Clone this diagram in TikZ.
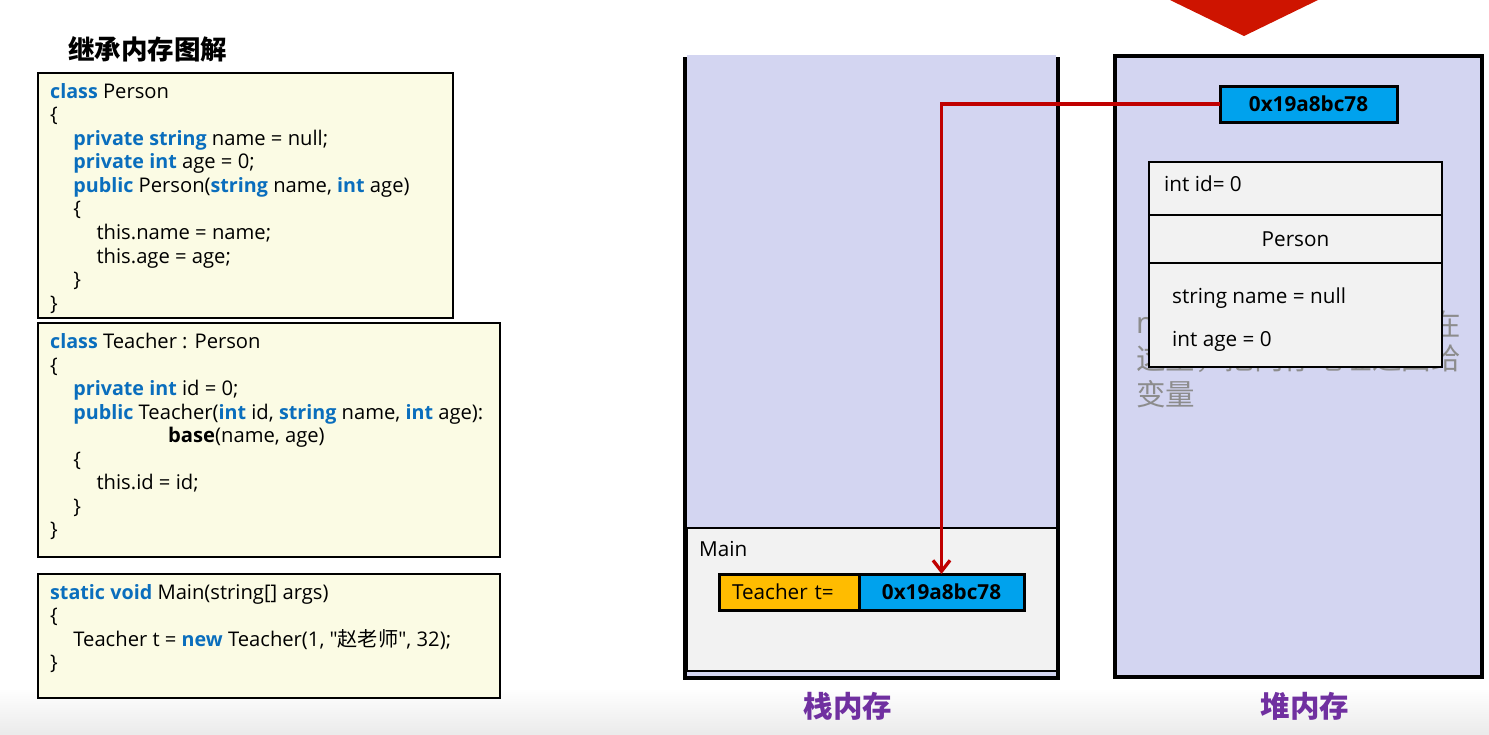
\documentclass[tikz,border=0pt]{standalone}
\usepackage{fontspec}
\setmainfont{Open Sans}[Ligatures=TeXOff]
\newfontfamily\cjk{Noto Sans CJK SC}
\usetikzlibrary{arrows.meta}
\definecolor{kwblue}{HTML}{0A6EBD}
\definecolor{notefill}{HTML}{FBFBE4}
\definecolor{memfill}{HTML}{D3D5F1}
\definecolor{framefill}{HTML}{F2F2F2}
\definecolor{addrblue}{HTML}{00A2ED}
\definecolor{varorange}{HTML}{FFBC00}
\definecolor{linkred}{HTML}{C00000}
\definecolor{bannerred}{HTML}{CE1400}
\definecolor{titlepurple}{HTML}{7030A0}
\newcommand{\kw}[1]{\textcolor{kwblue}{\fontsize{19.7}{23.55}\selectfont\bfseries #1}}
\newcommand{\ind}{\hspace*{23.2pt}}
\tikzset{
  notebox/.style={draw=black, line width=1.5pt, fill=notefill, inner sep=0pt, outer sep=0pt, anchor=north west},
  codetext/.style={anchor=north west, inner sep=0pt, align=left, font=\fontsize{20.2}{23.55}\selectfont},
  plain/.style={inner sep=0pt, font=\fontsize{20.7}{23}\selectfont},
  addrbox/.style={draw=black, line width=3pt, fill=addrblue, inner sep=0pt, outer sep=0pt, minimum height=36pt, anchor=north west, font=\fontsize{20.7}{23}\selectfont\bfseries},
  rowbox/.style={draw=black, line width=1.5pt, fill=framefill, inner sep=0pt, outer sep=0pt, minimum width=293pt, anchor=north west},
  memtitle/.style={inner sep=0pt, text=titlepurple, font=\fontsize{29.5}{30}\selectfont\cjk\bfseries},
  ghost/.style={inner sep=0pt, anchor=west, text=black!45, font=\fontsize{29.5}{30}\selectfont\cjk}
}
\begin{document}
\begin{tikzpicture}[x=1pt,y=-1pt]
  \useasboundingbox (0,0) rectangle (1489,734);
  \shade[top color=white, bottom color=black!8] (0,688) rectangle (1489,734);
  \fill[bannerred] (1170,0) -- (1244,36) -- (1318,0) -- cycle;

  \node[anchor=west, inner sep=0pt, font=\fontsize{26.5}{28}\selectfont\cjk\bfseries] (pagetitle) at (68,49) {继承内存图解};

  \node[notebox, minimum width=415pt, minimum height=245pt] (personbox) at (38,73) {};
  \node[codetext] (persontext) at (50,83) {\kw{class} Person\\
    \{\\
    \ind\kw{private} \kw{string} name = null;\\
    \ind\kw{private} \kw{int} age = 0;\\
    \ind\kw{public} Person(\kw{string} name, \kw{int} age)\\
    \ind\{\\
    \ind\ind this.name = name;\\
    \ind\ind this.age = age;\\
    \ind\}\\
    \}};
  \node[notebox, minimum width=462pt, minimum height=234pt] (teacherbox) at (38,323) {};
  \node[codetext] (teachertext) at (50,333) {\kw{class} Teacher : Person\\
    \{\\
    \ind\kw{private} \kw{int} id = 0;\\
    \ind\kw{public} Teacher(\kw{int} id, \kw{string} name, \kw{int} age):\\
    \hspace*{118pt}\textbf{base}(name, age)\\
    \ind\{\\
    \ind\ind this.id = id;\\
    \ind\}\\
    \}};
  \node[notebox, minimum width=462pt, minimum height=124pt] (mainbox) at (38,574) {};
  \node[codetext] (maintext) at (50,584) {\kw{static} \kw{void} Main(string[] args)\\
    \{\\
    \ind Teacher t = \kw{new} Teacher(1, "{\cjk 赵老师}", 32);\\
    \}};

  % stack
  \fill[memfill] (687,55) rectangle (1056,677);
  \node[draw=black, line width=1.5pt, fill=framefill, inner sep=0pt, outer sep=0pt, minimum width=370pt, minimum height=143pt, anchor=north west] (mainframe) at (687,528) {};
  \draw[line width=4pt] (685,57) -- (685,678) -- (1058,678) -- (1058,57);
  \node[plain, anchor=west] (mainlabel) at (699,549) {Main};
  \node[addrbox, fill=varorange, minimum width=140pt, text width=114pt, align=left, font=\fontsize{20.7}{23}\selectfont] (varcell) at (719,574) {Teacher t=};
  \node[addrbox, minimum width=165pt] (stackaddr) at (859,574) {0x19a8bc78};
  \node[memtitle] (stacktitle) at (848,706) {栈内存};

  % heap
  \draw[line width=4pt, fill=memfill] (1115,56) rectangle (1482,677);
  \node[ghost] (ghostn) at (1136,325) {\fontspec{Noto Sans}n};
  \node[ghost] (ghostzai) at (1431,324) {在};
  \node[ghost] (ghostb) at (1136,359) {这里，把内存地址返回给};
  \node[ghost] (ghostc) at (1136,394) {变量};
  \node[addrbox, minimum width=177pt] (heapaddr) at (1220,86) {0x19a8bc78};
  \node[rowbox, minimum height=53pt] (rowid) at (1149,162) {};
  \node[rowbox, minimum height=48pt, font=\fontsize{20.7}{23}\selectfont] (rowperson) at (rowid.south west) {Person};
  \node[rowbox, minimum height=104pt] (rowfields) at (rowperson.south west) {};
  \node[plain, anchor=west] (idlabel) at (1164,184) {int id= 0};
  \node[plain, anchor=west] (namelabel) at (1172,298) {string name = null};
  \node[plain, anchor=west] (agelabel) at (1172,341) {int age = 0};
  \node[memtitle] (heaptitle) at (1305,706) {堆内存};

  \draw[linkred, line width=3.3pt, -{Straight Barb[length=11pt,width=17pt,line width=3.3pt]}] (heapaddr.west) -| (stackaddr.north);
\end{tikzpicture}
\end{document}
